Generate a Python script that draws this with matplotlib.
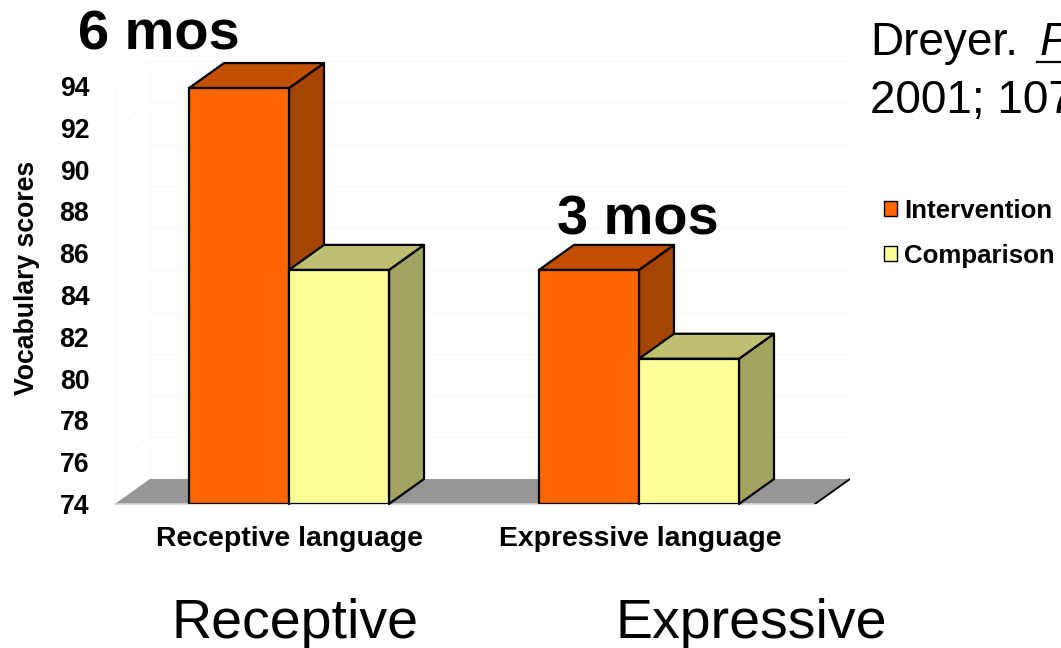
import matplotlib
matplotlib.use("Agg")
import matplotlib.pyplot as plt
from matplotlib.patches import Patch
from matplotlib.transforms import ScaledTranslation

plt.rcParams["font.family"] = ["Liberation Sans", "DejaVu Sans"]

# data
categories = ["Receptive language", "Expressive language"]
intervention = [93.9, 85.2]
comparison = [85.2, 80.95]
yticks = [74, 76, 78, 80, 82, 84, 86, 88, 90, 92, 94]

W, H = 1061, 648
fig = plt.figure(figsize=(W / 100, H / 100), dpi=100, facecolor="white")

# axes placed so that 74 sits at y=504 px and 94 at y=86 px
left, right, top, bottom = 115, 850, 64, 504
ax = fig.add_axes([left / W, 1 - bottom / H, (right - left) / W, (bottom - top) / H])
px_x = 350.0       # pixels per category
px_y = 20.9        # pixels per vocabulary point
ax.set_xlim((left - 289) / px_x, (right - 289) / px_x)
ax.set_ylim(74, 74 + (bottom - top) / px_y)
ax.patch.set_visible(False)
for s in ax.spines.values():
    s.set_visible(False)

bw = 100 / px_x    # bar width
dx = 35 / px_x     # 3d depth
dy = 25 / px_y

x0, x1 = ax.get_xlim()
x1 = x1 - dx

# faint walls / gridlines
wall = "#fafafa"
for t in yticks:
    ax.plot([x0 + dx, x1 + dx], [t + dy, t + dy], color=wall, lw=0.8, zorder=1, clip_on=False)
    ax.plot([x0, x0 + dx], [t, t + dy], color=wall, lw=0.8, zorder=1, clip_on=False)
ax.plot([x0 + dx, x0 + dx], [74 + dy, 94 + dy], color=wall, lw=0.8, zorder=1, clip_on=False)
ax.plot([x0, x0], [74, 94], color=wall, lw=0.8, zorder=1)

# floor
ax.fill([x0, x1, x1 + dx, x0 + dx], [74, 74, 74 + dy, 74 + dy], color="#969696", lw=0, zorder=2)
ax.plot([x0, x1], [74, 74], color="#d4d4d4", lw=1.2, zorder=2, clip_on=False)
ax.plot([x1, x1 + dx], [74, 74 + dy], color="black", lw=1.3, zorder=3)


def bar3d(x, val, front, topc, side, z):
    ax.fill([x + bw, x + bw + dx, x + bw + dx, x + bw],
            [74, 74 + dy, val + dy, val], facecolor=side, edgecolor="black", lw=1.6,
            zorder=z, joinstyle="round", clip_on=False)
    ax.fill([x, x + bw, x + bw + dx, x + dx],
            [val, val, val + dy, val + dy], facecolor=topc, edgecolor="black", lw=1.6,
            zorder=z, joinstyle="round", clip_on=False)
    ax.bar(x, val - 74, bottom=74, width=bw, align="edge", facecolor=front,
           edgecolor="black", lw=1.6, zorder=z + 0.1)


for i in range(len(categories)):
    bar3d(i - bw, intervention[i], "#FF6600", "#C24F00", "#A34400", 4 + i)
    bar3d(i, comparison[i], "#FFFF99", "#BFBF73", "#A3A361", 4.5 + i)

ax.set_xticks([0, 1.005])
ax.set_xticklabels(categories, fontsize=20.4, fontweight="bold")
ax.set_yticks(yticks)
ax.set_yticklabels(yticks, fontsize=19.2, fontweight="bold")
ax.tick_params(length=0)
ax.tick_params(axis="x", pad=16)
ax.tick_params(axis="y", pad=18.5)
# tick labels sit a little below their grid level
shift = ScaledTranslation(0, -3 / 100, fig.dpi_scale_trans)
for lab in ax.get_yticklabels():
    lab.set_verticalalignment("center")
    lab.set_transform(lab.get_transform() + shift)


def ptext(x, y, s, **kw):
    # x, y in image pixels from top left, baseline anchored
    return fig.text(x / W, 1 - y / H, s, va="baseline", **kw)


ptext(27, 278, "Vocabulary scores", fontsize=19.2, fontweight="bold", rotation=90,
      ha="center").set_verticalalignment("center")
ptext(78, 50, "6 mos", fontsize=40.3, fontweight="bold")
ptext(557, 234, "3 mos", fontsize=40.3, fontweight="bold")
ptext(171, 638, "Receptive", fontsize=40)
ptext(615, 638, "Expressive", fontsize=40)

# citation, runs off the right edge like the slide it came from
ptext(870, 55, "Dreyer.", fontsize=33)
ptext(1040, 55, "Pediatrics", fontsize=33, style="italic")
ptext(870, 113, "2001; 107", fontsize=33)
fig.add_artist(plt.Line2D([1037 / W, 1.0], [1 - 62 / H, 1 - 62 / H], color="black", lw=1.6))

handles = [Patch(facecolor="#FF6600", edgecolor="black", lw=1.0),
           Patch(facecolor="#FFFF99", edgecolor="black", lw=1.0)]
fig.legend(handles, ["Intervention", "Comparison"], loc="upper left",
           bbox_to_anchor=(876 / W, 1 - 191 / H), frameon=False, handlelength=0.5,
           handleheight=0.5, handletextpad=0.3, labelspacing=0.82, borderpad=0.3,
           borderaxespad=0, prop={"size": 18.6, "weight": "bold"})

fig.savefig("out.png", dpi=100)
